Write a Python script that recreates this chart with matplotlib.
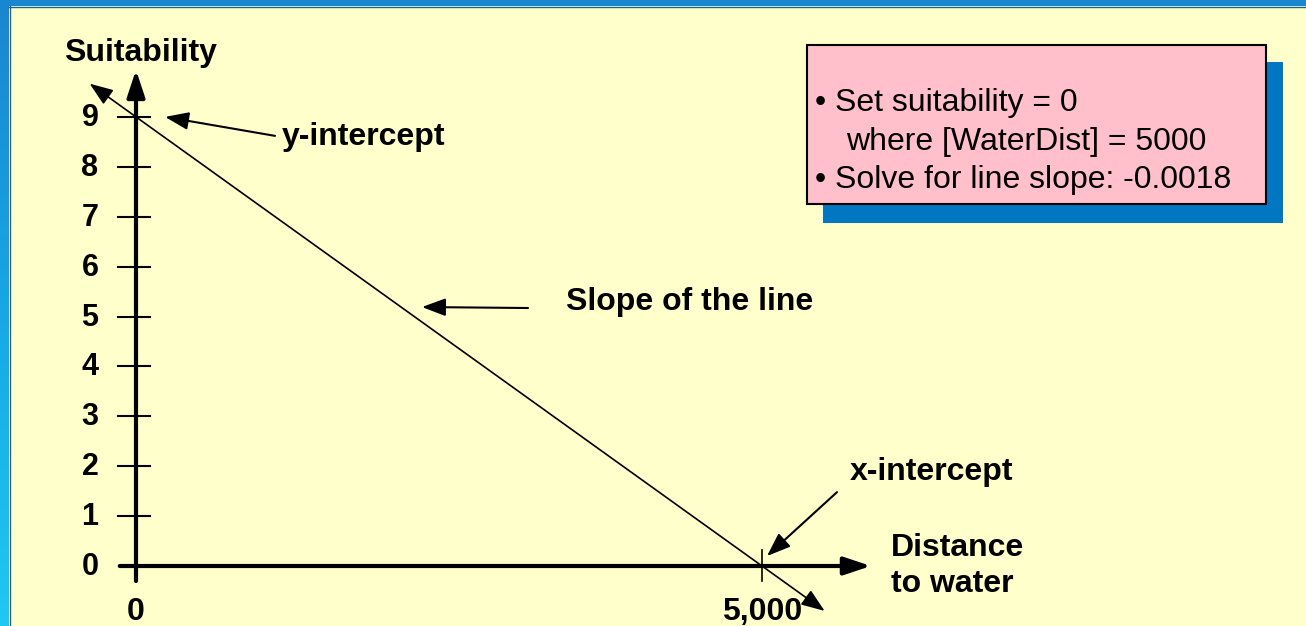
import numpy as np
import matplotlib
matplotlib.use("Agg")
import matplotlib.pyplot as plt
from matplotlib.patches import Rectangle

plt.rcParams['font.family'] = ['Liberation Sans', 'DejaVu Sans']

# line defined by its two intercepts
y_intercept = 9
x_intercept = 5000
slope = -y_intercept / x_intercept      # -0.0018
line_x_ends = [-370, 5500]              # how far the drawn line runs past the axes

y_ticks = [0, 1, 2, 3, 4, 5, 6, 7, 8, 9]
x_ticks = [0, 5000]
x_tick_labels = ["0", "5,000"]

box_lines = ["\u2022 Set suitability = 0",
             "where [WaterDist] = 5000",
             "\u2022 Solve for line slope: -0.0018"]

W, H = 1306, 626
fig = plt.figure(figsize=(W / 100, H / 100), dpi=100)

# slide background: blue frame, yellow panel
bg = fig.add_axes([0, 0, 1, 1])
bg.set_xlim(0, W)
bg.set_ylim(H, 0)
bg.axis("off")
grad = np.linspace(0, 1, 256).reshape(-1, 1)
cmap = matplotlib.colors.LinearSegmentedColormap.from_list("frame", ["#1a86d0", "#16a8e6", "#20c8f2"])
bg.imshow(grad, extent=[0, W, H, 0], cmap=cmap, aspect="auto", zorder=0)
bg.add_patch(Rectangle((9, 6), W, H, facecolor="#ffffcc", edgecolor="none", zorder=1))
bg.plot([9, W], [6.5, 6.5], color="#1166aa", lw=1, zorder=2)
bg.plot([9.5, 9.5], [6, H], color="#1166aa", lw=1, zorder=2)

# text box with shadow
bg.add_patch(Rectangle((823, 62), 460, 161, facecolor="#0077c0", edgecolor="none", zorder=3))
bg.add_patch(Rectangle((807, 45), 459, 159, facecolor="#ffc0cb", edgecolor="black", lw=1.5, zorder=4))
for txt, xx, yy in zip(box_lines, [815, 846, 815], [103, 142, 180]):
    bg.text(xx, yy, txt, fontsize=23, va="center", ha="left", zorder=5)

# chart axes mapped so that data units sit on the slide grid
px_x = 0.1252   # pixels per unit distance
px_y = 49.9     # pixels per suitability unit
ox, oy = 136, 566
ax = fig.add_axes([0, 0, 1, 1], facecolor="none")
ax.set_xlim(-ox / px_x, (W - ox) / px_x)
ax.set_ylim((oy - H) / px_y, oy / px_y)
ax.axis("off")

fs = 23
axis_arrow = dict(arrowstyle="-|>,head_length=0.9,head_width=0.3", lw=3, color="black",
                  shrinkA=0, shrinkB=0, mutation_scale=18)
# axes with arrow heads
ax.annotate("", xy=(0, 9.94), xytext=(0, -0.3), arrowprops=axis_arrow)
ax.annotate("", xy=(5870, 0), xytext=(-130, 0), arrowprops=axis_arrow)

# ticks
for t in y_ticks[1:]:
    ax.plot([-145, 110], [t, t], color="black", lw=1.5)
for t in y_ticks:
    ax.text(-300, t + 0.05, str(t), fontsize=22, fontweight="bold", ha="right", va="center_baseline")
ax.plot([x_intercept, x_intercept], [-0.3, 0.32], color="black", lw=1.2)
for t, lab in zip(x_ticks, x_tick_labels):
    ax.text(t, -0.92, lab, fontsize=fs, fontweight="bold", ha="center", va="center")

# the suitability line
y_ends = [y_intercept + slope * x for x in line_x_ends]
ax.annotate("", xy=(line_x_ends[0], y_ends[0]), xytext=(line_x_ends[1], y_ends[1]),
            arrowprops=dict(arrowstyle="<|-|>,head_length=0.8,head_width=0.3", lw=1.2, color="black",
                            shrinkA=0, shrinkB=0, mutation_scale=18))

# labels
ax.text(32, 10.28, "Suitability", fontsize=fs, fontweight="bold", ha="center", va="center")
ax.text(6030, 0, "Distance\nto water", fontsize=fs, fontweight="bold", ha="left", va="center",
        linespacing=1.3)

arrow = dict(arrowstyle="-|>,head_length=0.8,head_width=0.3", lw=1.5, color="black",
             shrinkA=0, shrinkB=0, mutation_scale=18)
ax.text(1166, 8.6, "y-intercept", fontsize=fs, fontweight="bold", ha="left", va="center")
ax.annotate("", xy=(232, 9.0), xytext=(1110, 8.62), arrowprops=arrow)
ax.text(3435, 5.29, "Slope of the line", fontsize=fs, fontweight="bold", ha="left", va="center")
ax.annotate("", xy=(2284, 5.19), xytext=(3131, 5.17), arrowprops=arrow)
ax.text(5703, 1.88, "x-intercept", fontsize=fs, fontweight="bold", ha="left", va="center")
ax.annotate("", xy=(5040, 0.2), xytext=(5599, 1.48), arrowprops=arrow)

fig.savefig("out.png", dpi=100)
